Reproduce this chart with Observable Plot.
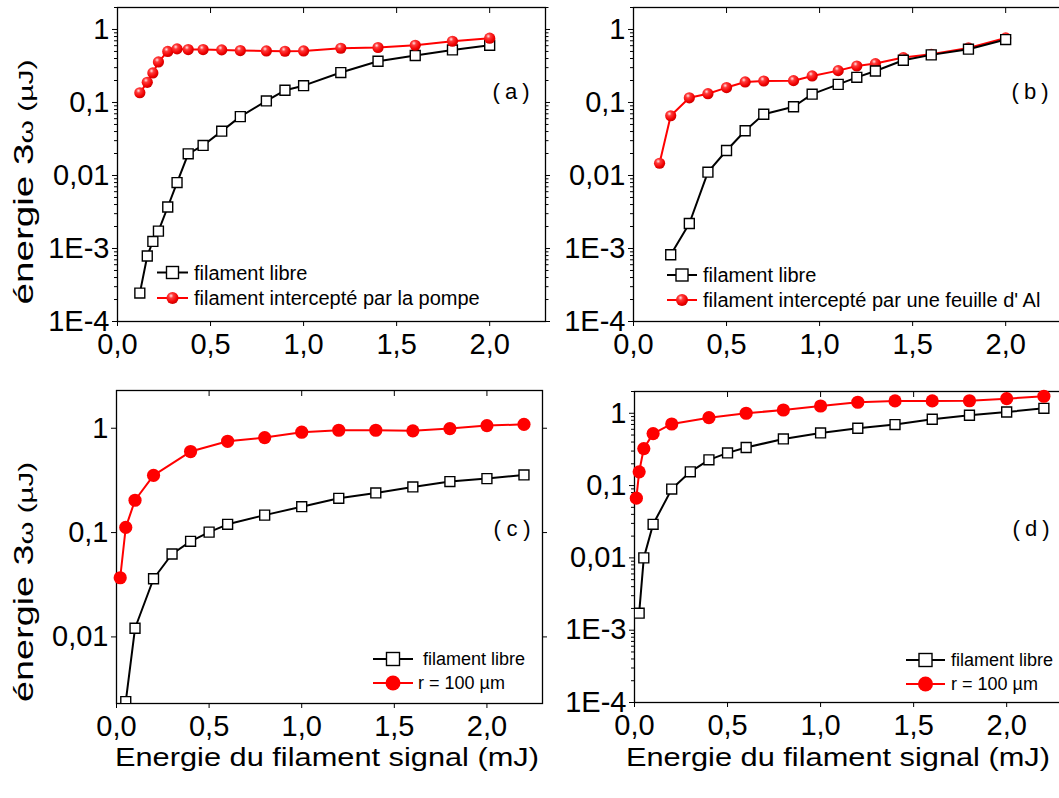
<!DOCTYPE html>
<html><head><meta charset="utf-8">
<script src="https://cdn.jsdelivr.net/npm/d3@7"></script>
<script src="https://cdn.jsdelivr.net/npm/@observablehq/plot@0.6"></script>
<style>
html,body{margin:0;padding:0;background:#fff;overflow:hidden;width:1059px;height:798px;}
#root{position:relative;width:1059px;height:798px;overflow:hidden;font-family:"Liberation Sans",Arial,sans-serif;color:#000;}
.panel{position:absolute;}
</style></head><body>
<svg width="0" height="0" style="position:absolute">
  <defs>
    <radialGradient id="ball" cx="0.38" cy="0.32" r="0.7">
      <stop offset="0" stop-color="#ffe6e6"/>
      <stop offset="0.28" stop-color="#ff3a3a"/>
      <stop offset="0.75" stop-color="#f00000"/>
      <stop offset="1" stop-color="#c80000"/>
    </radialGradient>
  </defs>
</svg>
<div id="root"></div>
<script>
// ---------- data ----------
// (a) filament libre / filament intercepté par la pompe
const xA = [0.12,0.16,0.19,0.22,0.27,0.32,0.38,0.46,0.56,0.66,0.80,0.90,1.00,1.20,1.40,1.60,1.80,2.00];
const aLibre = [2.45e-4,7.9e-4,1.25e-3,1.73e-3,3.7e-3,8.0e-3,0.0198,0.0258,0.0405,0.064,0.105,0.147,0.17,0.257,0.367,0.44,0.525,0.608];
const aPompe = [0.136,0.189,0.254,0.359,0.50,0.542,0.531,0.531,0.525,0.514,0.508,0.503,0.508,0.553,0.566,0.608,0.69,0.759];
// (b) filament libre / filament intercepté par une feuille d' Al
const xBLibre = [0.20,0.30,0.40,0.50,0.60,0.70,0.86,0.96,1.10,1.20,1.30,1.45,1.60,1.80,2.00];
const bLibre = [8.2e-4,2.2e-3,0.0111,0.022,0.041,0.069,0.0875,0.13,0.177,0.221,0.27,0.379,0.449,0.537,0.728];
const xBAl = [0.14,0.20,0.30,0.40,0.50,0.60,0.70,0.86,0.96,1.10,1.20,1.30,1.45,1.60,1.80,2.00];
const bAl = [0.0147,0.0658,0.116,0.132,0.16,0.191,0.197,0.199,0.231,0.273,0.316,0.341,0.412,0.458,0.559,0.767];
// (c) filament libre / r = 100 µm
const xCLibre = [0.05,0.10,0.20,0.30,0.40,0.50,0.60,0.80,1.00,1.20,1.40,1.60,1.80,2.00,2.20];
const cLibre = [2.4e-3,0.0121,0.0361,0.0623,0.0824,0.101,0.12,0.147,0.177,0.213,0.24,0.274,0.308,0.329,0.357];
const xCR = [0.02,0.05,0.10,0.20,0.40,0.60,0.80,1.00,1.20,1.40,1.60,1.80,2.00,2.20];
const cR = [0.0369,0.112,0.204,0.354,0.598,0.75,0.814,0.916,0.957,0.957,0.944,0.993,1.06,1.09];
// (d) filament libre / r = 100 µm
const xDLibre = [0.025,0.05,0.10,0.20,0.30,0.40,0.50,0.60,0.80,1.00,1.20,1.40,1.60,1.80,2.00,2.20];
const dLibre = [1.72e-3,0.01,0.0291,0.0894,0.155,0.227,0.283,0.336,0.442,0.535,0.621,0.697,0.826,0.938,1.04,1.17];
const xDR = [0.01,0.025,0.05,0.10,0.20,0.40,0.60,0.80,1.00,1.20,1.40,1.60,1.80,2.00,2.20];
const dR = [0.067,0.155,0.325,0.523,0.711,0.87,1.0,1.11,1.26,1.42,1.48,1.48,1.49,1.59,1.72];

// ticks
const xTicks = [0, 0.5, 1.0, 1.5, 2.0];
const yTicks4 = [1e-4, 1e-3, 1e-2, 1e-1, 1];
const yTicks3 = [1e-2, 1e-1, 1];
const yMinor4 = [];
for (const e of [-4,-3,-2,-1]) for (let k = 2; k <= 9; k++) yMinor4.push(+(k * Math.pow(10, e)).toPrecision(2));
yMinor4.push(2);

const panelTags = ["( a )", "( b )", "( c )", "( d )"];
const legendA = ["filament libre", "filament intercepté par la pompe"];
const legendB = ["filament libre", "filament intercepté par une feuille d' Al"];
const legendCD = ["filament libre", "r = 100 \u00b5m"];
const xTitle = "Energie du filament signal (mJ)";
const yTitleMain = "énergie 3";
const yTitleSmall = "\u03c9 (\u00b5J)";

// ---------- helpers ----------
const fmtY = d => d >= 0.01 ? String(+d.toPrecision(3)).replace(".", ",") : "1E" + Math.round(Math.log10(d));
const fmtX = d => d.toFixed(1).replace(".", ",");
const pts = (xs, ys) => xs.map((x, i) => ({x, y: ys[i]}));
const root = document.getElementById("root");

function makePanel(cfg) {
  const marks = [
    Plot.axisY(cfg.yTicks, {anchor: "left", tickSize: 5, tickPadding: 3, tickFormat: fmtY, label: null}),
    Plot.axisY(cfg.yTicks, {anchor: "right", tickSize: 4, tickFormat: () => "", label: null}),
    Plot.axisX(xTicks, {anchor: "bottom", tickSize: 5, tickPadding: 7, tickFormat: fmtX, label: null}),
    Plot.axisX(xTicks, {anchor: "top", tickSize: -5, tickFormat: () => "", label: null})
  ];
  if (cfg.yMinor) {
    marks.push(Plot.axisY(cfg.yMinor, {anchor: "left", tickSize: 3, tickFormat: () => "", label: null}));
    marks.push(Plot.axisY(cfg.yMinor, {anchor: "right", tickSize: 2.5, tickFormat: () => "", label: null}));
  }
  marks.push(Plot.frame({stroke: "#000", strokeWidth: 1.3}));
  for (const s of cfg.series) {
    const data = pts(s.xs, s.ys);
    marks.push(Plot.line(data, {x: "x", y: "y", stroke: s.color, strokeWidth: 2}));
    if (s.kind === "square") {
      marks.push(Plot.dot(data, {x: "x", y: "y", symbol: "square", r: 5.6, fill: "#fff", stroke: "#000", strokeWidth: 1.4, clip: true}));
    } else if (s.kind === "ball") {
      marks.push(Plot.dot(data, {x: "x", y: "y", r: 5.6, fill: "url(#ball)", stroke: "none"}));
    } else {
      marks.push(Plot.dot(data, {x: "x", y: "y", r: 6.6, fill: "#ff0000", stroke: "none"}));
    }
  }
  const p = Plot.plot({
    width: cfg.width, height: cfg.height,
    marginLeft: cfg.mL, marginRight: cfg.mR, marginTop: cfg.mT, marginBottom: cfg.mB,
    x: {domain: [0, 2.3]},
    y: {type: "log", domain: cfg.yDomain},
    style: {fontFamily: "'Liberation Sans', Arial, sans-serif", fontSize: "29px", color: "#000", background: "transparent", overflow: "visible"},
    marks
  });
  p.classList.add("panel");
  p.style.left = cfg.left + "px";
  p.style.top = cfg.top + "px";
  root.appendChild(p);
}

makePanel({left: 0, top: 0, width: 560, height: 365, mL: 117, mR: 15, mT: 7, mB: 44,
  yDomain: [1e-4, 2], yTicks: yTicks4, yMinor: yMinor4,
  series: [
    {xs: xA, ys: aLibre, color: "#000", kind: "square"},
    {xs: xA, ys: aPompe, color: "#ff0000", kind: "ball"}
  ]});
makePanel({left: 530, top: 0, width: 545, height: 365, mL: 103, mR: 14, mT: 7, mB: 44,
  yDomain: [1e-4, 2], yTicks: yTicks4, yMinor: yMinor4,
  series: [
    {xs: xBAl, ys: bAl, color: "#ff0000", kind: "ball"},
    {xs: xBLibre, ys: bLibre, color: "#000", kind: "square"}
  ]});
makePanel({left: 0, top: 370, width: 560, height: 370, mL: 116, mR: 18, mT: 20, mB: 37,
  yDomain: [0.0023, 2.3], yTicks: yTicks3, yMinor: null,
  series: [
    {xs: xCLibre, ys: cLibre, color: "#000", kind: "square"},
    {xs: xCR, ys: cR, color: "#ff0000", kind: "big"}
  ]});
makePanel({left: 530, top: 370, width: 545, height: 370, mL: 104, mR: 13, mT: 21, mB: 38,
  yDomain: [1e-4, 2], yTicks: yTicks4, yMinor: yMinor4,
  series: [
    {xs: xDLibre, ys: dLibre, color: "#000", kind: "square"},
    {xs: xDR, ys: dR, color: "#ff0000", kind: "big"}
  ]});

// ---------- overlay: legends, tags, titles ----------
const ov = d3.select(root).append("svg")
  .attr("width", 1059).attr("height", 798)
  .style("position", "absolute").style("left", "0px").style("top", "0px")
  .style("font-family", "'Liberation Sans', Arial, sans-serif");

function legendRow(x1, x2, y, tx, kind, color, text, fs) {
  ov.append("line").attr("x1", x1).attr("x2", x2).attr("y1", y).attr("y2", y)
    .attr("stroke", color).attr("stroke-width", 2);
  const cx = (x1 + x2) / 2;
  if (kind === "square") {
    ov.append("rect").attr("x", cx - 6).attr("y", y - 6).attr("width", 12).attr("height", 12)
      .attr("fill", "#fff").attr("stroke", "#000").attr("stroke-width", 1.4);
  } else if (kind === "bigsquare") {
    ov.append("rect").attr("x", cx - 6.5).attr("y", y - 6.5).attr("width", 13).attr("height", 13)
      .attr("fill", "#fff").attr("stroke", "#000").attr("stroke-width", 1.4);
  } else if (kind === "ball") {
    ov.append("circle").attr("cx", cx).attr("cy", y).attr("r", 6).attr("fill", "url(#ball)");
  } else {
    ov.append("circle").attr("cx", cx).attr("cy", y).attr("r", 7.5).attr("fill", "#ff0000");
  }
  ov.append("text").attr("x", tx).attr("y", y).attr("dy", "0.36em")
    .attr("font-size", fs).attr("fill", "#000").text(text);
}
legendRow(157, 188, 272.5, 194, "square", "#000", legendA[0], 20);
legendRow(157, 188, 298, 194, "ball", "#ff0000", legendA[1], 20);
legendRow(667, 697, 275, 703, "square", "#000", legendB[0], 20);
legendRow(667, 697, 300, 703, "ball", "#ff0000", legendB[1], 20);
legendRow(373, 413, 659, 423, "bigsquare", "#000", legendCD[0], 18);
legendRow(373, 413, 683, 418, "big", "#ff0000", legendCD[1], 18);
legendRow(906, 945, 660, 951, "bigsquare", "#000", legendCD[0], 18);
legendRow(906, 945, 684, 951, "big", "#ff0000", legendCD[1], 18);

const tagPos = [[511, 91], [1030, 91], [512, 528], [1031, 528]];
panelTags.forEach((t, i) => {
  ov.append("text").attr("x", tagPos[i][0]).attr("y", tagPos[i][1]).attr("dy", "0.36em")
    .attr("text-anchor", "middle").attr("font-size", 22).attr("fill", "#000")
    .attr("textLength", 37).attr("lengthAdjust", "spacing")
    .attr("xml:space", "preserve").text(t);
});

for (const cx of [327, 838]) {
  ov.append("text").attr("x", cx).attr("y", 757).attr("dy", "0.36em")
    .attr("text-anchor", "middle").attr("font-size", 26).attr("fill", "#000")
    .attr("textLength", 424).attr("lengthAdjust", "spacingAndGlyphs").text(xTitle);
}
for (const [cy, len] of [[182, 245], [582, 240]]) {
  const t = ov.append("text").attr("transform", `translate(27,${cy}) rotate(-90)`)
    .attr("text-anchor", "middle").attr("dy", "0.36em").attr("fill", "#000")
    .attr("textLength", len).attr("lengthAdjust", "spacingAndGlyphs");
  t.append("tspan").attr("font-size", 27).text(yTitleMain);
  t.append("tspan").attr("font-size", 21).text(yTitleSmall);
}
</script>
</body></html>
